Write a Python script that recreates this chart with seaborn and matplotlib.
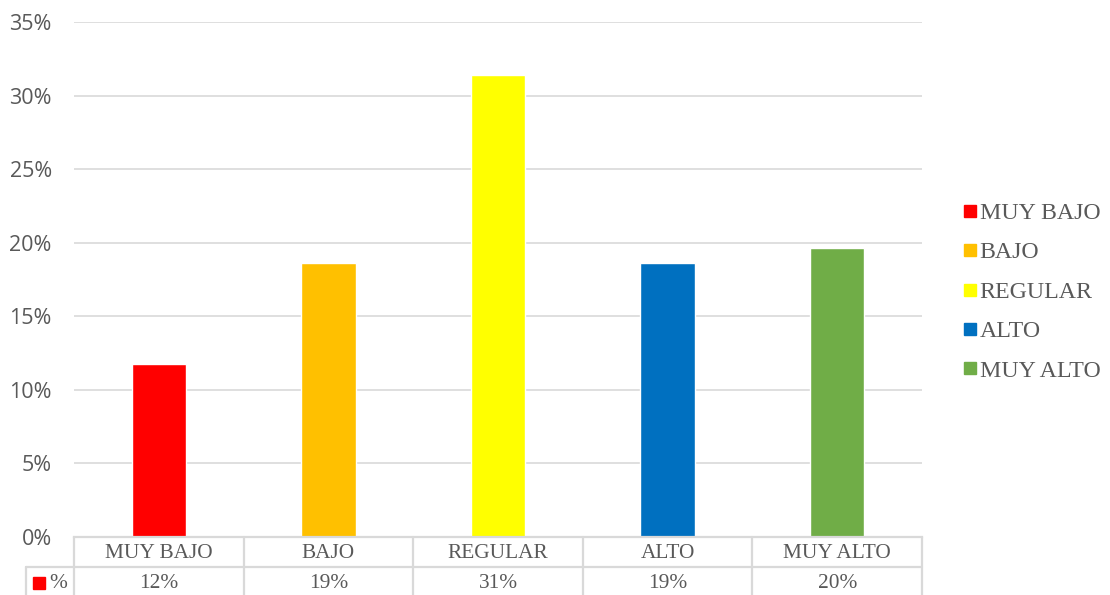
import matplotlib
matplotlib.use("Agg")
import matplotlib.pyplot as plt
import seaborn as sns
from matplotlib.lines import Line2D
from matplotlib.ticker import FuncFormatter

categories = ["MUY BAJO", "BAJO", "REGULAR", "ALTO", "MUY ALTO"]
values = [0.1176, 0.1863, 0.3137, 0.1863, 0.1961]
colors = ["#FF0000", "#FFC000", "#FFFF00", "#0070C0", "#70AD47"]
series_name = "%"
yticks = [0, 0.05, 0.10, 0.15, 0.20, 0.25, 0.30, 0.35]

sns.set_theme(style="white")
plt.rcParams["font.family"] = ["Liberation Serif", "DejaVu Serif"]

W, H = 1110, 595
fig = plt.figure(figsize=(W / 100, H / 100), dpi=100)
L, R, T, B = 74, 922, 22, 537
ax = fig.add_axes([L / W, 1 - B / H, (R - L) / W, (B - T) / H])
AXH = B - T
AXW = R - L

sns.barplot(x=categories, y=values, hue=categories, palette=colors,
            width=0.32, legend=False, ax=ax, saturation=1)

grid_c = "#D9D9D9"
text_c = "#595959"
ax.set_xlim(-0.5, len(categories) - 0.5)
ax.set_ylim(0, 0.35)
ax.set_yticks(yticks)
ax.yaxis.set_major_formatter(FuncFormatter(lambda v, p: f"{v*100:.0f}%"))
for lab in ax.get_yticklabels():
    lab.set_fontfamily("Open Sans")
    lab.set_fontsize(15.5)
    lab.set_color(text_c)
ax.tick_params(axis="y", length=0, pad=16)
ax.set_xticks([])
ax.set_xlabel("")
ax.set_ylabel("")
ax.grid(axis="y", color=grid_c, linewidth=1.2)
ax.set_axisbelow(True)
for s in ["top", "right", "left"]:
    ax.spines[s].set_visible(False)
ax.spines["bottom"].set_color(grid_c)
ax.spines["bottom"].set_linewidth(1.6)

# data table
trans = ax.get_xaxis_transform()
row1 = 30 / AXH
row2 = 62 / AXH
lw = 1.6
for i in range(len(categories) + 1):
    xb = i - 0.5
    ax.plot([xb, xb], [0, -row2], color=grid_c, lw=lw, transform=trans, clip_on=False)
left_ax = (26 - L) / AXW
ax.plot([left_ax, 1], [-row1, -row1], color=grid_c, lw=lw, transform=ax.transAxes, clip_on=False)
ax.plot([left_ax, left_ax], [-row1, -row2], color=grid_c, lw=lw, transform=ax.transAxes, clip_on=False)

for i, (c, v) in enumerate(zip(categories, values)):
    ax.text(i, -16 / AXH, c, transform=trans, ha="center", va="center",
            fontsize=15.4, color=text_c)
    ax.text(i, -46 / AXH, f"{v*100:.0f}%", transform=trans, ha="center", va="center",
            fontsize=15.4, color=text_c)
ax.plot([(39 - L) / AXW], [-46 / AXH], marker="s", markersize=8, color=colors[0],
        transform=ax.transAxes, clip_on=False, linestyle="none")
ax.text((49 - L) / AXW, -46 / AXH, series_name, transform=ax.transAxes,
        ha="left", va="center", fontsize=15.4, color=text_c)

handles = [Line2D([0], [0], marker="s", color=c, linestyle="none", markersize=9)
           for c in colors]
fig.legend(handles, categories, loc="center left",
           bbox_to_anchor=(954 / W, 1 - 292 / H), frameon=False,
           prop={"family": "Liberation Serif", "size": 17.2},
           labelcolor=text_c, handlelength=0.55, handletextpad=0.12,
           labelspacing=0.74, borderaxespad=0)

fig.savefig("out.png", dpi=100)
